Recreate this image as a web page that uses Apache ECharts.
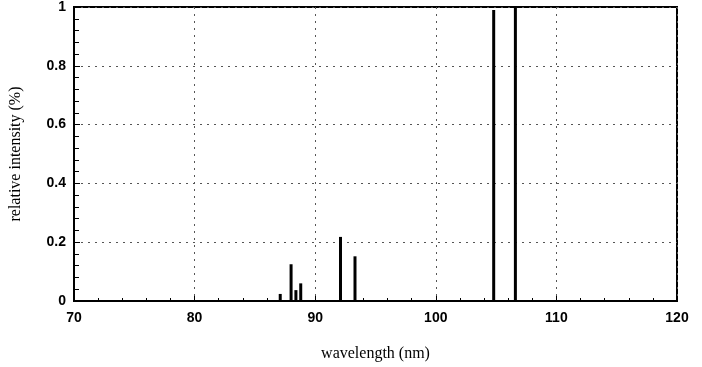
<!DOCTYPE html>
<html>
<head>
<meta charset="utf-8">
<script src="https://cdn.jsdelivr.net/npm/echarts@6/dist/echarts.min.js"></script>
<style>
  html, body { margin: 0; padding: 0; background: #fff; }
  #chart { width: 702px; height: 367px; }
</style>
</head>
<body>
<div id="chart"></div>
<script>
// emission lines
const wavelengths = [87.1, 88.0, 88.4, 88.8, 92.1, 93.3, 104.8, 106.6]
const intensities = [0.024, 0.125, 0.037, 0.06, 0.218, 0.152, 0.99, 1.0]

const chart = echarts.init(document.getElementById('chart'))
const tickFont = { fontFamily: 'Liberation Sans', fontWeight: 'bold', fontSize: 14, color: '#000' }
const nameFont = { fontFamily: 'Liberation Serif', fontSize: 16, color: '#000' }

chart.setOption({
  animation: false,
  grid: {
    left: 74, right: 25, top: 6, bottom: 66,
    show: true, borderColor: '#000', borderWidth: 2
  },
  xAxis: {
    type: 'value',
    min: 70, max: 120, interval: 10,
    name: 'wavelength (nm)',
    nameLocation: 'middle',
    nameGap: 45,
    nameTextStyle: nameFont,
    axisLine: { lineStyle: { color: '#000', width: 2 } },
    axisTick: { inside: true, length: 5, lineStyle: { color: '#000' } },
    minorTick: { show: true, splitNumber: 5, length: 3, lineStyle: { color: '#000' } },
    axisLabel: Object.assign({ margin: 10 }, tickFont),
    splitLine: { show: true, lineStyle: { color: '#555', type: [2, 5], width: 1 } }
  },
  yAxis: {
    type: 'value',
    min: 0, max: 1, interval: 0.2,
    name: 'relative intensity (%)',
    nameLocation: 'middle',
    nameGap: 50,
    nameTextStyle: nameFont,
    axisLine: { show: true, lineStyle: { color: '#000', width: 2 } },
    axisTick: { inside: true, length: 6, lineStyle: { color: '#000' } },
    minorTick: { show: true, splitNumber: 5, length: 5, lineStyle: { color: '#000' } },
    axisLabel: Object.assign({ margin: 8, formatter: v => String(Math.round(v * 10) / 10) }, tickFont),
    splitLine: { show: true, lineStyle: { color: '#555', type: [2, 5], width: 1 } }
  },
  series: [{
    type: 'bar',
    barWidth: 3,
    itemStyle: { color: '#000' },
    data: wavelengths.map((w, i) => [w, intensities[i]])
  }]
})
</script>
</body>
</html>
